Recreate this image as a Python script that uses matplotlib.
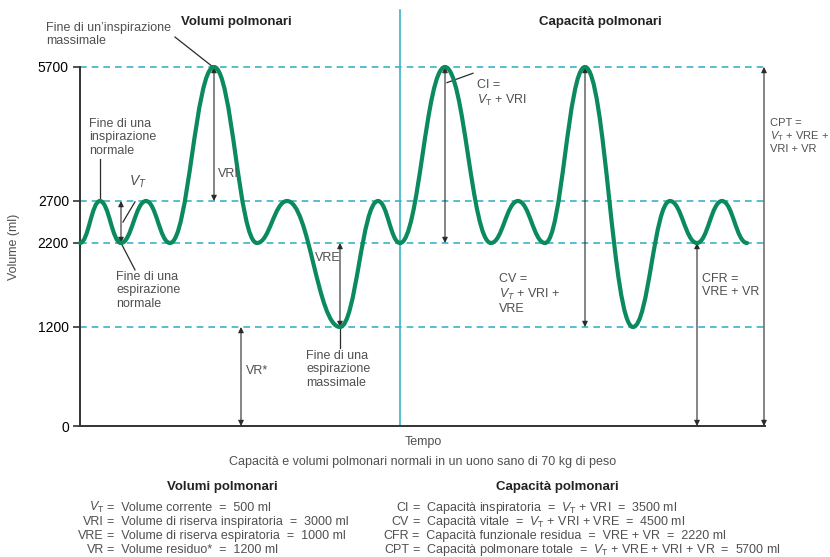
import numpy as np
import matplotlib
matplotlib.use("Agg")
import matplotlib.pyplot as plt
from matplotlib.path import Path
from matplotlib.patches import PathPatch

# extremes of the spirogram trace (time units, volume ml)
t_ext = [0, 20, 41, 66, 90, 134, 177, 207, 260, 298, 320, 365, 411, 438, 465, 505, 553, 590, 617, 642, 667]
v_ext = [2200, 2700, 2200, 2700, 2200, 5700, 2200, 2700, 1200, 2700, 2200, 5700, 2200, 2700, 2200, 5700, 1200, 2700, 2200, 2700, 2200]

levels = [1200, 2200, 2700, 5700]
yticks = [0, 1200, 2200, 2700, 5700]
# the drawing's volume axis is not linear: tick value -> relative height
ytick_pos = [0, 99, 183, 225, 359]

vol_symbols = [r"$V_\mathrm{T}$", "VRI", "VRE", "VR"]
vol_text = ["Volume corrente  =  500 ml",
            "Volume di riserva inspiratoria  =  3000 ml",
            "Volume di riserva espiratoria  =  1000 ml",
            "Volume residuo*  =  1200 ml"]
cap_symbols = ["CI", "CV", "CFR", "CPT"]
cap_text = [r"Capacità inspiratoria  =  $V_\mathrm{T}$ + VRI  =  3500 ml",
            r"Capacità vitale  =  $V_\mathrm{T}$ + VRI + VRE  =  4500 ml",
            "Capacità funzionale residua  =  VRE + VR  =  2220 ml",
            r"Capacità polmonare totale  =  $V_\mathrm{T}$ + VRE + VRI + VR  =  5700 ml"]

FONT = "Liberation Sans"
plt.rcParams["font.family"] = [FONT, "DejaVu Sans"]
plt.rcParams["mathtext.fontset"] = "custom"
plt.rcParams["mathtext.rm"] = FONT
plt.rcParams["mathtext.it"] = FONT + ":italic"

GREEN = "#0b8a5e"
CYAN = "#3ab3c6"
GREY = "#505050"
ARW = "#2a2a2a"

W, H = 830, 557
fig = plt.figure(figsize=(W / 100, H / 100), dpi=100)
ax = fig.add_axes([80 / W, 1 - 426 / H, 685 / W, 359 / H])

xp = [-100000] + yticks + [100000]
yp = [-100000 * 0.0825] + ytick_pos + [359 + (100000 - 5700) * 0.0447]


def fwd(v):
    return np.interp(v, xp, yp)


def inv(p):
    return np.interp(p, yp, xp)


ax.set_yscale("function", functions=(fwd, inv))
ax.set_ylim(0, 5700)
ax.set_xlim(0, 685)

# smooth trace through the extremes
k = 0.42
verts = [(t_ext[0], v_ext[0])]
codes = [Path.MOVETO]
for i in range(len(t_ext) - 1):
    t0, v0, t1, v1 = t_ext[i], v_ext[i], t_ext[i + 1], v_ext[i + 1]
    dt = t1 - t0
    verts += [(t0 + k * dt, v0), (t1 - k * dt, v1), (t1, v1)]
    codes += [Path.CURVE4] * 3
ax.add_patch(PathPatch(Path(verts, codes), fc="none", ec=GREEN, lw=3,
                       clip_on=False, zorder=4, capstyle="round"))

for lv in levels:
    ax.plot([0, 684], [lv, lv], ls=(0, (4, 3)), color=CYAN, lw=1.2, zorder=1, clip_on=False)
ax.axvline(320, ymin=0, ymax=(426 - 10) / 359, color=CYAN, lw=1.2, clip_on=False, zorder=1)

for s in ["top", "right"]:
    ax.spines[s].set_visible(False)
ax.spines["left"].set_color("#333333")
ax.spines["bottom"].set_color("#333333")
ax.spines["left"].set_linewidth(1.4)
ax.spines["bottom"].set_linewidth(1.4)
ax.set_yticks(yticks)
ax.set_yticklabels([str(v) for v in yticks], fontsize=10)
ax.tick_params(axis="y", length=5, width=1.2, color="#333333", pad=3)
ax.set_xticks([])
ax.set_ylabel("Volume (ml)", fontsize=9, color=GREY)
ax.yaxis.set_label_coords(-0.088, 0.5)


def arrow(t, v0, v1):
    ax.annotate("", xy=(t, v1), xytext=(t, v0),
                arrowprops=dict(arrowstyle="<|-|>", color=ARW, lw=0.8,
                                mutation_scale=8, shrinkA=0, shrinkB=0),
                annotation_clip=False, zorder=3)


def line(p0, p1):
    ax.plot([p0[0], p1[0]], [p0[1], p1[1]], color=ARW, lw=0.9, clip_on=False, zorder=3)


def ftext(x, y, s, **kw):
    kw.setdefault("fontsize", 9)
    kw.setdefault("color", GREY)
    kw.setdefault("va", "top")
    fig.text(x / W, 1 - y / H, s, linespacing=1.15, **kw)


# left half: volumes
arrow(t_ext[2], 2200, 2700)          # V_T
arrow(t_ext[5], 2700, 5700)          # VRI
arrow(t_ext[8], 2200, 1200)          # VRE
arrow(161, 0, 1200)                  # VR
# right half: capacities
arrow(t_ext[11], 2200, 5700)         # CI
arrow(t_ext[15], 1200, 5700)         # CV
arrow(t_ext[18], 0, 2200)            # CFR
arrow(684, 0, 5700)                  # CPT

line((20, 2760), (20, 3650))
line((43, 2450), (55, 2690))
line((41, 2200), (55, 1880))
line((t_ext[8], 1200), (t_ext[8], 950))
line((367, 5350), (393, 5560))
line((133, 5700), (95, 6370))

ftext(46, 22, "Fine di un’inspirazione\nmassimale")
ftext(89, 118, "Fine di una\ninspirazione\nnormale")
ftext(116, 271, "Fine di una\nespirazione\nnormale")
ftext(129, 174, r"$V_\mathit{T}$", fontsize=10)
ftext(218, 168, "VRI")
ftext(315, 252, "VRE")
ftext(246, 365, "VR*")
ftext(306, 350, "Fine di una\nespirazione\nmassimale")
ftext(477, 79, "CI =\n" + r"$V_\mathrm{T}$ + VRI")
ftext(499, 273, "CV =\n" + r"$V_\mathit{T}$ + VRI +" + "\nVRE")
ftext(702, 273, "CFR =\nVRE + VR")
ftext(770, 118, "CPT =\n" + r"$V_\mathrm{T}$ + VRE +" + "\nVRI + VR", fontsize=8)

ftext(236, 16, "Volumi polmonari", fontsize=9.5, fontweight="bold", color="#222222", ha="center")
ftext(600, 16, "Capacità polmonari", fontsize=9.5, fontweight="bold", color="#222222", ha="center")

ftext(423, 436, "Tempo", ha="center")
ftext(423, 456, "Capacità e volumi polmonari normali in un uono sano di 70 kg di peso", ha="center")

ftext(222, 481, "Volumi polmonari", fontsize=9.5, fontweight="bold", color="#222222", ha="center")
ftext(557, 481, "Capacità polmonari", fontsize=9.5, fontweight="bold", color="#222222", ha="center")

for i, (s, txt) in enumerate(zip(vol_symbols, vol_text)):
    y = 511 + i * 14
    ftext(104, y, s, ha="right", va="baseline")
    ftext(107, y, "=  " + txt, va="baseline")
for i, (s, txt) in enumerate(zip(cap_symbols, cap_text)):
    y = 511 + i * 14
    ftext(409, y, s, ha="right", va="baseline")
    ftext(412, y, "=  " + txt, va="baseline")

fig.savefig("out.png", dpi=100)
